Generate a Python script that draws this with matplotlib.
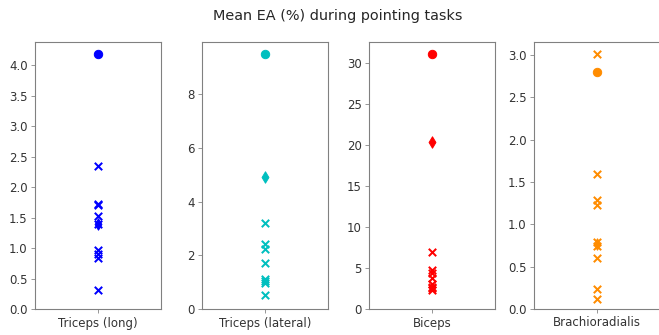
""" Mean EA per muscle during pointing tasks
"""

import matplotlib.pyplot as plt

muscles = ['Triceps (long)', 'Triceps (lateral)', 'Biceps', 'Brachioradialis']
colors = ['b', 'c', 'r', 'darkorange']

# per-subject values (x markers)
subjects_tri_long = [2.35, 1.72, 1.70, 1.53, 1.40, 0.97, 0.90, 0.84, 0.31]
subjects_tri_lat = [3.21, 2.41, 2.25, 1.72, 1.13, 1.05, 0.98, 0.51]
subjects_biceps = [6.96, 4.81, 4.40, 3.83, 3.10, 2.69, 2.50, 2.28]
subjects_brachio = [3.01, 1.59, 1.29, 1.23, 0.79, 0.75, 0.60, 0.24, 0.12]

# diamond and circle markers
diamond_vals = [1.39, 4.93, 20.3, 0.77]
circle_vals = [4.19, 9.50, 31.1, 2.80]

subjects = [subjects_tri_long, subjects_tri_lat, subjects_biceps, subjects_brachio]

dpi = 72
fig = plt.figure(figsize=(659/dpi, 335/dpi), dpi=dpi)

lefts = [35, 202, 369, 534]
width = 126
for i, name in enumerate(muscles):
    ax = fig.add_axes([lefts[i]/659, (335-309)/335, width/659, (309-42)/335])
    vals = subjects[i]
    ax.scatter([0]*len(vals), vals, marker='x', s=55, linewidths=2,
               color=colors[i])
    ax.scatter([0], [diamond_vals[i]], marker='d', s=65, color=colors[i])
    ax.scatter([0], [circle_vals[i]], marker='o', s=70, color=colors[i])
    ax.set_xlim(-1, 1)
    ax.set_ylim(bottom=0)
    ax.set_xticks([0])
    ax.set_xticklabels([name])
    for s in ax.spines.values():
        s.set_color('#808080')
        s.set_linewidth(1.1)
    ax.tick_params(colors='#808080', labelcolor='#333333', labelsize=11.8,
                   length=4)

fig.suptitle('Mean EA (%) during pointing tasks', x=338/659, y=1-16/335,
             va='center', fontsize=14.4, color='#262626')

plt.savefig('out.png', dpi=dpi)
